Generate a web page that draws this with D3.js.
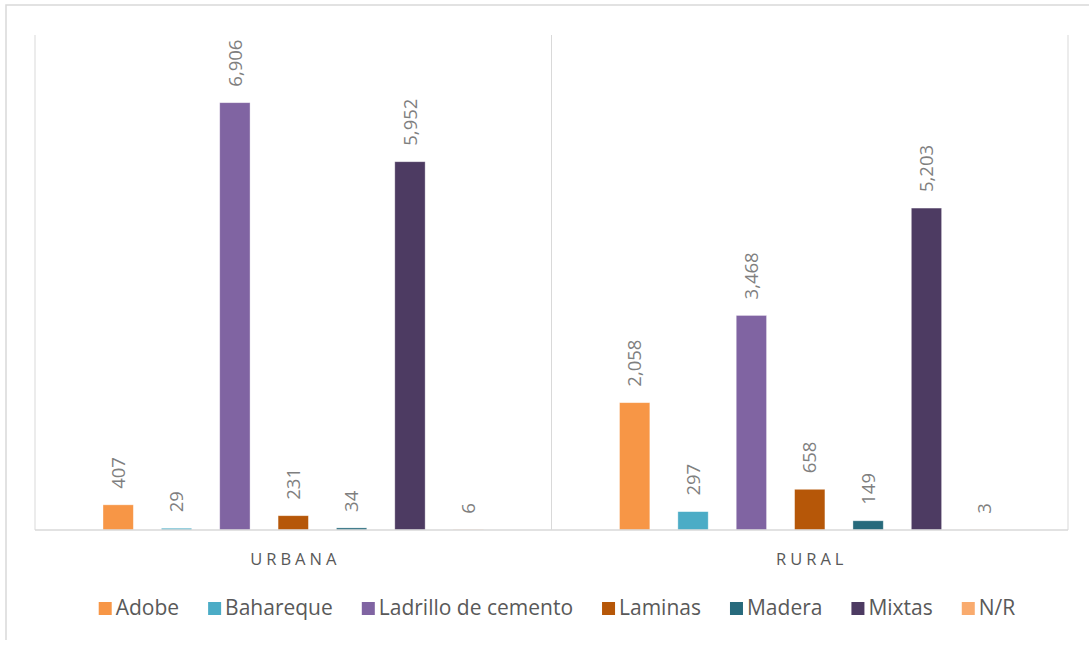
<!DOCTYPE html>
<html>
<head>
<meta charset="utf-8">
<script src="https://cdn.jsdelivr.net/npm/d3@7"></script>
<style>
  body { margin: 0; background: #fff; }
  svg { display: block; font-family: "Open Sans", sans-serif; }
</style>
</head>
<body>
<script>
// Data
const categories = ["URBANA", "RURAL"];
const series = ["Adobe", "Bahareque", "Ladrillo de cemento", "Laminas", "Madera", "Mixtas", "N/R"];
const urbanaValues = [407, 29, 6906, 231, 34, 5952, 6];
const ruralValues = [2058, 297, 3468, 658, 149, 5203, 3];
const colors = ["#f79646", "#4bacc6", "#8064a2", "#b65708", "#276a7c", "#4d3b62", "#f9ab6e"];

const width = 1089;
const height = 645;
const plot = { left: 35, right: 1068, top: 35, bottom: 530 };

const rows = categories.map((c, i) => ({
    category: c,
    values: series.map((s, j) => ({ series: s, value: [urbanaValues, ruralValues][i][j] }))
}));

const svg = d3.select("body").append("svg")
    .attr("width", width)
    .attr("height", height);

// outer frame (only top and left edge visible)
svg.append("path")
    .attr("d", `M6,640 V5 H${width}`)
    .attr("fill", "none")
    .attr("stroke", "#d9d9d9")
    .attr("stroke-width", 1.5);

// Scales
const x0 = d3.scaleBand()
    .domain(categories)
    .range([plot.left, plot.right]);

const groupPad = 68;
const x1 = d3.scaleBand()
    .domain(series)
    .range([groupPad, x0.bandwidth() - groupPad])
    .paddingInner(0.48);

const y = d3.scaleLinear()
    .domain([0, 8000])
    .range([plot.bottom, plot.top]);

const color = d3.scaleOrdinal().domain(series).range(colors);

// vertical separators between categories
svg.append("g")
    .selectAll("line")
    .data([...categories.map(c => x0(c)), plot.right])
    .join("line")
    .attr("x1", d => d).attr("x2", d => d)
    .attr("y1", plot.top).attr("y2", plot.bottom)
    .attr("stroke", "#d9d9d9")
    .attr("stroke-width", 1);

// bars
const groups = svg.append("g")
    .selectAll("g")
    .data(rows)
    .join("g")
    .attr("transform", d => `translate(${x0(d.category)},0)`);

groups.selectAll("rect")
    .data(d => d.values)
    .join("rect")
    .attr("x", d => x1(d.series))
    .attr("y", d => y(d.value))
    .attr("width", x1.bandwidth())
    .attr("height", d => y(0) - y(d.value))
    .attr("fill", d => color(d.series))
    .attr("stroke", "#ffffff")
    .attr("stroke-opacity", 0.5)
    .attr("stroke-width", 0.75);

// value labels, rotated
const fmt = d3.format(",");
groups.selectAll("text")
    .data(d => d.values)
    .join("text")
    .attr("transform", d => `translate(${x1(d.series) + x1.bandwidth() / 2},${y(d.value) - 16}) rotate(-90)`)
    .attr("dy", "0.36em")
    .attr("text-anchor", "start")
    .attr("fill", "#7f7f7f")
    .style("font-size", "18.5px")
    .text(d => fmt(d.value));

// baseline
svg.append("line")
    .attr("x1", plot.left).attr("x2", plot.right)
    .attr("y1", plot.bottom).attr("y2", plot.bottom)
    .attr("stroke", "#d9d9d9")
    .attr("stroke-width", 1.5);

// category axis labels
const xAxis = svg.append("g")
    .attr("transform", `translate(0,${plot.bottom})`)
    .call(d3.axisBottom(x0).tickSize(0).tickPadding(23));
xAxis.select(".domain").remove();
xAxis.selectAll("text")
    .attr("fill", "#595959")
    .style("font-family", "'Open Sans', sans-serif")
    .style("font-size", "16.5px")
    .style("letter-spacing", "4px")
    .attr("dx", "2px");

// legend
const legend = svg.append("g");
const items = legend.selectAll("g")
    .data(series)
    .join("g");
items.append("rect")
    .attr("width", 13).attr("height", 13)
    .attr("y", -6)
    .attr("fill", d => color(d));
items.append("text")
    .attr("x", 17)
    .attr("dy", "0.35em")
    .attr("fill", "#595959")
    .style("font-size", "21px")
    .text(d => d);

let cursor = 0;
items.each(function () {
    const w = this.getBBox().width;
    d3.select(this).attr("transform", `translate(${cursor},0)`);
    cursor += w + 29;
});
const legendWidth = cursor - 29;
legend.attr("transform", `translate(${557 - legendWidth / 2},608)`);
</script>
</body>
</html>
